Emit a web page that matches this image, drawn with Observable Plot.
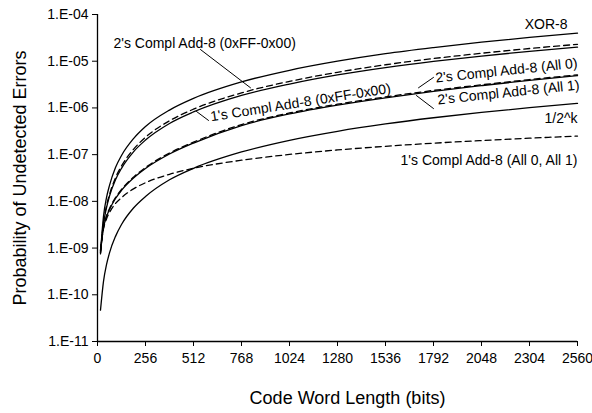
<!DOCTYPE html>
<html><head><meta charset="utf-8">
<script src="https://cdn.jsdelivr.net/npm/d3@7"></script>
<script src="https://cdn.jsdelivr.net/npm/@observablehq/plot@0.6"></script>
<style>html,body{margin:0;padding:0;background:#fff}</style>
</head><body><div id="chart"></div>
<script>
// Code word lengths (bits)
const lengths  = [16, 32, 48, 64, 96, 128, 192, 256, 384, 512, 768, 1024, 1280, 1536, 1792, 2048, 2304, 2560];
// Probability of undetected errors per checksum
const xor8     = [8.0e-10, 4.8e-9, 1.2e-8, 2.2e-8, 5.3e-8, 9.6e-8, 2.2e-7, 4.0e-7, 9.0e-7, 1.6e-6, 3.6e-6, 6.4e-6, 1.0e-5, 1.45e-5, 1.96e-5, 2.56e-5, 3.23e-5, 3.98e-5];
const twos0xFF = [8.0e-10, 3.6e-9, 8.0e-9, 1.4e-8, 3.2e-8, 5.7e-8, 1.3e-7, 2.35e-7, 5.3e-7, 9.4e-7, 2.1e-6, 3.7e-6, 5.8e-6, 8.4e-6, 1.14e-5, 1.48e-5, 1.87e-5, 2.3e-5];
const ones0xFF = [7.5e-10, 3.3e-9, 7.3e-9, 1.3e-8, 2.9e-8, 5.1e-8, 1.15e-7, 2.05e-7, 4.65e-7, 8.2e-7, 1.85e-6, 3.25e-6, 5.1e-6, 7.3e-6, 9.9e-6, 1.29e-5, 1.63e-5, 2.0e-5];
const twosAll0 = [9.0e-10, 2.8e-9, 4.9e-9, 7.0e-9, 1.2e-8, 1.8e-8, 3.3e-8, 5.3e-8, 1.08e-7, 1.85e-7, 4.4e-7, 7.8e-7, 1.2e-6, 1.72e-6, 2.37e-6, 3.12e-6, 4.05e-6, 5.1e-6];
const twosAll1 = [8.6e-10, 2.7e-9, 4.7e-9, 6.7e-9, 1.15e-8, 1.72e-8, 3.15e-8, 5.05e-8, 1.03e-7, 1.77e-7, 4.2e-7, 7.45e-7, 1.15e-6, 1.65e-6, 2.27e-6, 3.0e-6, 3.9e-6, 4.9e-6];
const halfK    = [4.7e-11, 1.94e-10, 4.4e-10, 7.9e-10, 1.78e-9, 3.2e-9, 7.2e-9, 1.27e-8, 2.9e-8, 5.1e-8, 1.14e-7, 2.03e-7, 3.16e-7, 4.54e-7, 6.16e-7, 8.0e-7, 1.01e-6, 1.25e-6];
const onesAll  = [9.0e-10, 2.6e-9, 4.2e-9, 5.8e-9, 9.0e-9, 1.2e-8, 1.85e-8, 2.5e-8, 3.8e-8, 5.1e-8, 7.6e-8, 1.01e-7, 1.26e-7, 1.51e-7, 1.76e-7, 2.0e-7, 2.25e-7, 2.5e-7];

const xTicks = [0, 256, 512, 768, 1024, 1280, 1536, 1792, 2048, 2304, 2560];
const yTicks = [1e-11, 1e-10, 1e-9, 1e-8, 1e-7, 1e-6, 1e-5, 1e-4];

const series = [
  {name: "XOR-8", values: xor8, dashed: false},
  {name: "2's Compl Add-8 (0xFF-0x00)", values: twos0xFF, dashed: true},
  {name: "1's Compl Add-8 (0xFF-0x00)", values: ones0xFF, dashed: false},
  {name: "2's Compl Add-8 (All 0)", values: twosAll0, dashed: true},
  {name: "2's Compl Add-8 (All 1)", values: twosAll1, dashed: false},
  {name: "1/2^k", values: halfK, dashed: false},
  {name: "1's Compl Add-8 (All 0, All 1)", values: onesAll, dashed: true}
];
const rows = series.flatMap(s => lengths.map((n, i) => ({series: s.name, dashed: s.dashed, n, p: s.values[i]})));

// label annotations (data coordinates)
const labels = [
  {text: "XOR-8", n: 2507, p: 6.1e-5, anchor: "end", rotate: 0},
  {text: "2's Compl Add-8 (0xFF-0x00)", n: 85, p: 2.4e-5, anchor: "start", rotate: 0},
  {text: "1's Compl Add-8 (0xFF-0x00)", n: 1083, p: 1.3e-6, anchor: "middle", rotate: -9},
  {text: "2's Compl Add-8 (All 0)", n: 2181, p: 6.3e-6, anchor: "middle", rotate: -6},
  {text: "2's Compl Add-8 (All 1)", n: 2192, p: 2.14e-6, anchor: "middle", rotate: -6},
  {text: "1/2^k", n: 2560, p: 5.9e-7, anchor: "end", rotate: 0},
  {text: "1's Compl Add-8 (All 0, All 1)", n: 2560, p: 7.4e-8, anchor: "end", rotate: 0}
];
const arrows = [
  {n1: 549, p1: 1.78e-5, n2: 816, p2: 2.7e-6, bend: 8},
  {n1: 592, p1: 5.4e-7, n2: 528, p2: 8.4e-7, bend: 70},
  {n1: 1792, p1: 4.5e-6, n2: 1712, p2: 2.7e-6, bend: -70},
  {n1: 1792, p1: 9.7e-7, n2: 1701, p2: 1.84e-6, bend: 70}
];

const fmt = d => { const e = Math.round(Math.log10(d)); return "1.E" + (e < 0 ? "-" : "+") + String(Math.abs(e)).padStart(2, "0"); };
const labelMark = anchor => Plot.text(labels.filter(d => d.anchor === anchor), {x: "n", y: "p", text: "text", textAnchor: anchor, rotate: "rotate", fontSize: 14, fill: "#000"});

const chart = Plot.plot({
  width: 592, height: 413,
  marginLeft: 97, marginRight: 15, marginTop: 14, marginBottom: 72,
  style: {fontFamily: "'Liberation Sans', Arial, sans-serif", fontSize: "14px", color: "#000", background: "#fff"},
  x: {domain: [0, 2560]},
  y: {type: "log", domain: [1e-11, 1e-4]},
  marks: [
    Plot.axisX({ticks: xTicks, tickSize: 5, tickPadding: 7, label: null, tickFormat: d => String(d), fontSize: 14}),
    Plot.axisY({ticks: yTicks, tickSize: 5, tickPadding: 4, label: null, tickFormat: fmt, fontSize: 14}),
    Plot.ruleX([0], {strokeWidth: 1.3}),
    Plot.ruleY([1e-11], {strokeWidth: 1.3}),
    Plot.line(rows.filter(d => !d.dashed), {x: "n", y: "p", z: "series", curve: "monotone-x", stroke: "#000", strokeWidth: 1.3}),
    Plot.line(rows.filter(d => d.dashed), {x: "n", y: "p", z: "series", curve: "monotone-x", stroke: "#000", strokeWidth: 1.3, strokeDasharray: "6,4"}),
    labelMark("start"), labelMark("middle"), labelMark("end"),
    Plot.arrow(arrows, {x1: "n1", y1: "p1", x2: "n2", y2: "p2", bend: "bend", stroke: "#000", strokeWidth: 1, headLength: 7}),
    Plot.text(["Code Word Length (bits)"], {frameAnchor: "bottom", dx: 10, dy: 62, fontSize: 18, fill: "#000"}),
    Plot.text(["Probability of Undetected Errors"], {frameAnchor: "left", textAnchor: "middle", dx: -77, rotate: -90, fontSize: 18, fill: "#000"})
  ]
});
document.getElementById("chart").append(chart);
</script>
</body></html>
